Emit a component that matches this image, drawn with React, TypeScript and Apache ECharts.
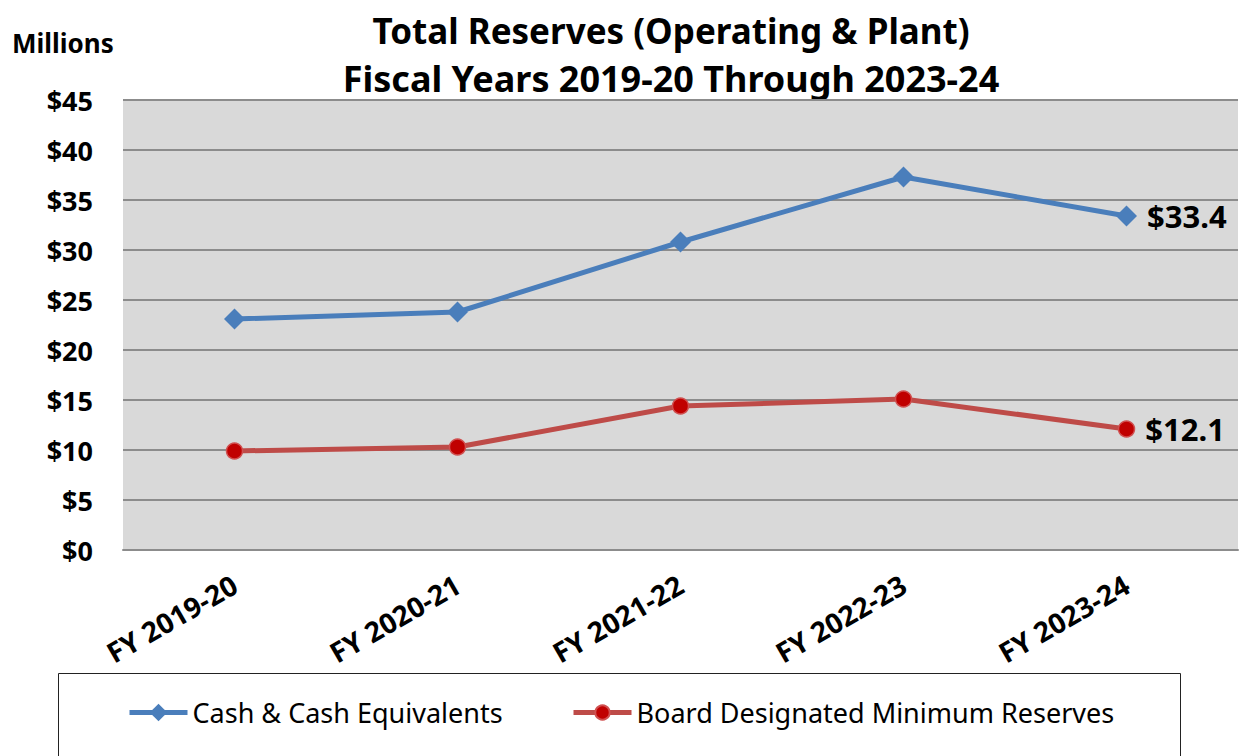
import React, { useEffect, useRef } from "react";
import * as echarts from "echarts";

const categories = ["FY 2019-20", "FY 2020-21", "FY 2021-22", "FY 2022-23", "FY 2023-24"];
const cashValues = [23.1, 23.8, 30.8, 37.3, 33.4];
const boardValues = [9.9, 10.3, 14.4, 15.1, 12.1];
const seriesNames = ["Cash & Cash Equivalents", "Board Designated Minimum Reserves"];
const titleLines = ["Total Reserves (Operating & Plant)", "Fiscal Years 2019-20 Through 2023-24"];

const FONT = "'Noto Sans', 'Open Sans', sans-serif";

export default function App() {
  const ref = useRef<HTMLDivElement>(null);
  useEffect(() => {
    document.body.style.margin = "0";
    if (!ref.current) return;
    const chart = echarts.init(ref.current, null, { renderer: "svg" });
    const lastLabel = (vals: number[]) =>
      vals.map((v, i) =>
        i === vals.length - 1
          ? {
              value: v,
              label: {
                show: true,
                position: "right",
                distance: 10,
                formatter: (p: any) => "$" + p.value.toFixed(1),
                fontFamily: FONT,
                fontWeight: "bold",
                fontSize: 31,
                color: "#000",
              },
            }
          : v
      );
    const legendText = { fontFamily: FONT, fontSize: 27, color: "#000" };
    chart.setOption({
      animation: false,
      textStyle: { fontFamily: FONT },
      grid: {
        left: 123,
        right: 1,
        top: 100,
        bottom: 206,
        show: true,
        backgroundColor: "#d9d9d9",
        borderWidth: 0,
      },
      graphic: [
        {
          type: "text",
          x: 671,
          y: 30,
          style: {
            text: titleLines[0],
            textAlign: "center",
            textVerticalAlign: "middle",
            fontFamily: FONT,
            fontWeight: "bold",
            fontSize: 35,
            fill: "#000",
          },
        },
        {
          type: "text",
          x: 671,
          y: 78,
          style: {
            text: titleLines[1],
            textAlign: "center",
            textVerticalAlign: "middle",
            fontFamily: FONT,
            fontWeight: "bold",
            fontSize: 36,
            fill: "#000",
          },
        },
        {
          type: "text",
          x: 12,
          y: 43,
          style: {
            text: "Millions",
            textAlign: "left",
            textVerticalAlign: "middle",
            fontFamily: FONT,
            fontWeight: "bold",
            fontSize: 26,
            fill: "#000",
          },
        },
        {
          type: "rect",
          shape: { x: 58.5, y: 673.5, width: 1122, height: 100 },
          style: { fill: "#fff", stroke: "#222", lineWidth: 1 },
          z: -1,
        },
      ],
      legend: [
        {
          data: [seriesNames[0]],
          left: 127,
          top: 699,
          padding: 0,
          itemWidth: 58,
          itemHeight: 22,
          itemGap: 0,
          lineStyle: { width: 5 },
          textStyle: legendText,
        },
        {
          data: [seriesNames[1]],
          left: 571,
          top: 699,
          padding: 0,
          itemWidth: 58,
          itemHeight: 18,
          itemGap: 0,
          lineStyle: { width: 5 },
          textStyle: legendText,
        },
      ],
      xAxis: {
        type: "category",
        data: categories,
        boundaryGap: true,
        axisLine: { show: true, lineStyle: { color: "#8c8c8c", width: 2 } },
        axisTick: { show: false },
        axisLabel: {
          rotate: 30,
          margin: 32,
          interval: 0,
          fontFamily: FONT,
          fontWeight: "bold",
          fontSize: 28,
          color: "#000",
        },
      },
      yAxis: {
        type: "value",
        min: 0,
        max: 45,
        interval: 5,
        axisLine: { show: false },
        axisTick: { show: false },
        splitLine: { show: true, lineStyle: { color: "#8c8c8c", width: 2 } },
        axisLabel: {
          formatter: (v: number) => "$" + v,
          margin: 30,
          fontFamily: FONT,
          fontWeight: "bold",
          fontSize: 27,
          color: "#000",
        },
      },
      series: [
        {
          name: seriesNames[0],
          type: "line",
          data: lastLabel(cashValues),
          symbol: "diamond",
          symbolSize: 21,
          lineStyle: { color: "#4a7ebb", width: 5 },
          itemStyle: { color: "#4a7ebb", borderWidth: 0 },
          z: 3,
        },
        {
          name: seriesNames[1],
          type: "line",
          data: lastLabel(boardValues),
          symbol: "circle",
          symbolSize: 16,
          lineStyle: { color: "#be4b48", width: 5 },
          itemStyle: { color: "#c00000", borderColor: "#d05050", borderWidth: 1.5 },
          z: 2,
        },
      ],
    });
    return () => chart.dispose();
  }, []);
  return <div ref={ref} style={{ width: 1239, height: 756 }} />;
}
